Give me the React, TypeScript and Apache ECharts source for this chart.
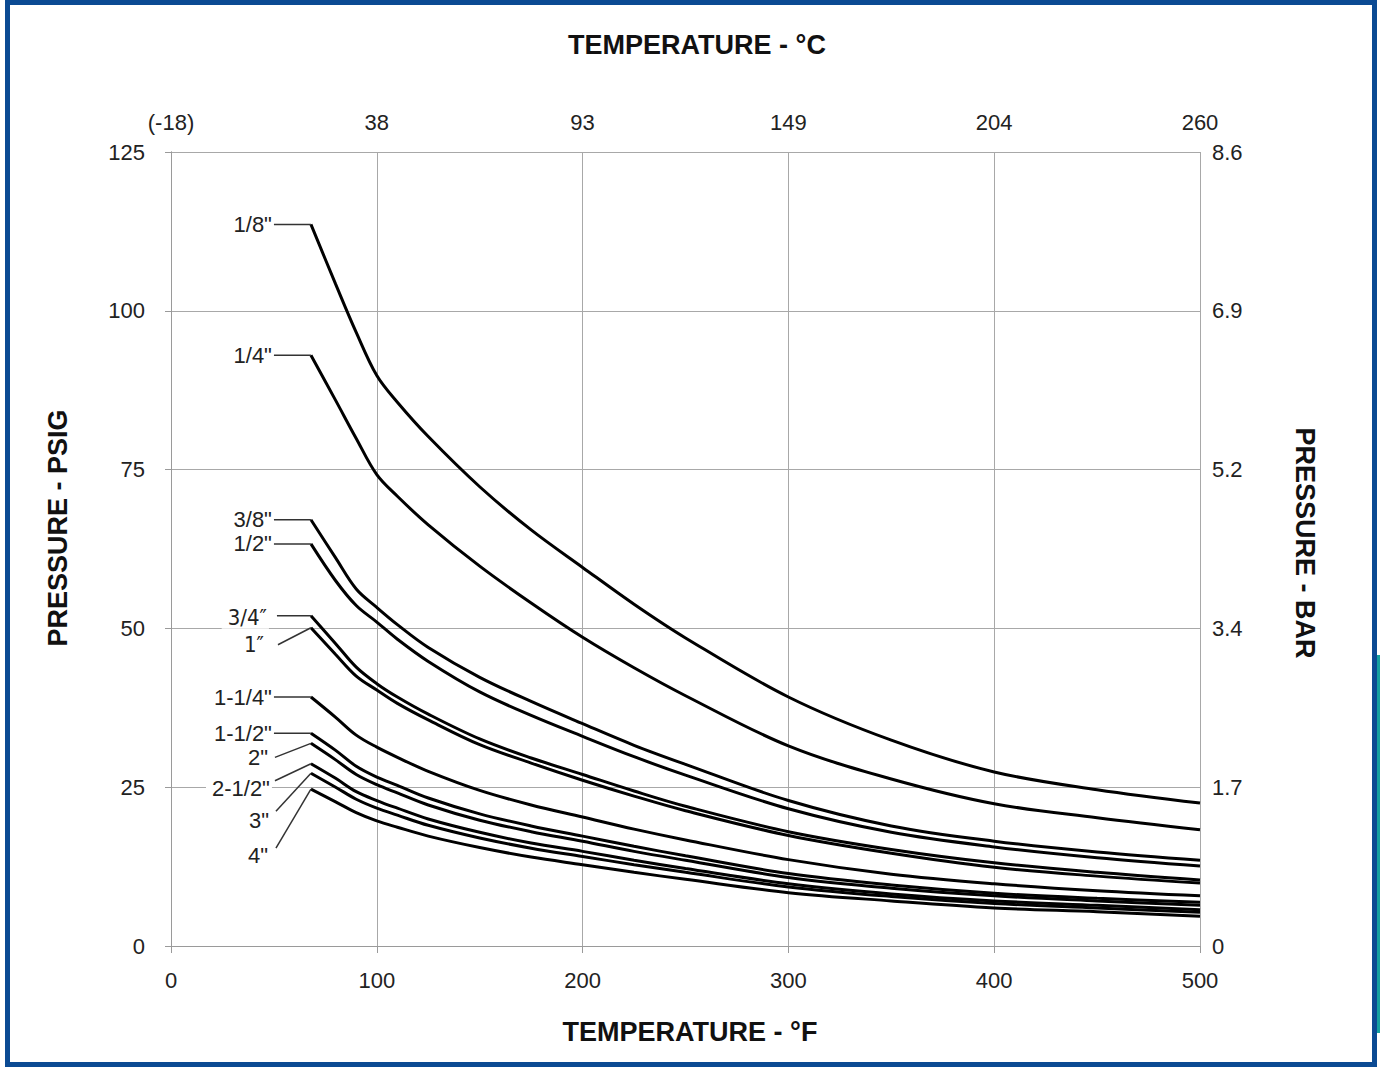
import React, { useEffect, useRef } from 'react';
import * as echarts from 'echarts';

// Temperature (°F) sample points shared by every curve
const temperaturesF = [68, 80, 90, 100, 110, 125, 150, 175, 200, 225, 250, 300, 350, 400, 450, 500];

// Pressure (psig) per pipe size
const p1_8 = [113.6, 104.2, 96.6, 89.8, 85.6, 80.2, 72.3, 65.5, 59.6, 53.8, 48.5, 39.2, 32.4, 27.4, 24.6, 22.5];
const p1_4 = [93, 85.9, 79.9, 74.2, 70.8, 66.3, 59.8, 54, 48.6, 43.8, 39.4, 31.5, 26.3, 22.4, 20.2, 18.3];
const p3_8 = [67.1, 61.1, 56.2, 53.3, 50.6, 47, 42.3, 38.5, 35, 31.6, 28.6, 22.9, 18.9, 16.5, 14.8, 13.5];
const p1_2 = [63.3, 57.5, 53.6, 51, 48.3, 44.8, 40, 36.3, 33, 29.8, 26.9, 21.6, 17.9, 15.6, 13.9, 12.6];
const p3_4 = [52, 47.6, 43.9, 41.3, 39.2, 36.5, 32.6, 29.6, 27, 24.4, 22, 18, 15.2, 13.1, 11.6, 10.4];
const p1 = [50.1, 45.9, 42.5, 40.3, 38.2, 35.6, 31.7, 28.8, 26.1, 23.6, 21.3, 17.4, 14.6, 12.4, 11, 9.9];
const p1_1_4 = [39.2, 36, 33.2, 31.3, 29.7, 27.5, 24.5, 22.2, 20.3, 18.4, 16.7, 13.6, 11.3, 9.8, 8.7, 7.9];
const p1_1_2 = [33.5, 30.8, 28.3, 26.6, 25.3, 23.3, 20.8, 18.9, 17.3, 15.7, 14.2, 11.4, 9.6, 8.3, 7.5, 6.9];
const p2 = [31.9, 29.3, 27, 25.4, 24.1, 22.2, 19.8, 18, 16.5, 14.9, 13.5, 10.8, 9.1, 7.9, 7.1, 6.4];
const p2_1_2 = [28.7, 26.4, 24.3, 22.9, 21.7, 20, 17.9, 16.2, 14.9, 13.5, 12.2, 9.8, 8.2, 7.1, 6.4, 5.7];
const p3 = [27.2, 25, 23.1, 21.7, 20.6, 19, 17, 15.4, 14.1, 12.8, 11.6, 9.3, 7.8, 6.7, 6, 5.3];
const p4 = [24.7, 22.7, 21, 19.7, 18.7, 17.3, 15.5, 14, 12.8, 11.6, 10.5, 8.4, 7.1, 6, 5.4, 4.7];

const sizeNames = ['1/8"', '1/4"', '3/8"', '1/2"', '3/4″', '1″', '1-1/4"', '1-1/2"', '2"', '2-1/2"', '3"', '4"'];
const sizeValues = [p1_8, p1_4, p3_8, p1_2, p3_4, p1, p1_1_4, p1_1_2, p2, p2_1_2, p3, p4];

// Axis tick labels
const celsiusLabels = ['(-18)', '38', '93', '149', '204', '260'];
const barLabels = ['0', '1.7', '3.4', '5.2', '6.9', '8.6'];

// Callout layout (offsets relative to each curve's start point): label right edge dx/dy, leader start lx/ly
const callouts = [
  { dx: -39, dy: 0, lx: -37, ly: 0, bg: false, thin: false },
  { dx: -39, dy: 0, lx: -37, ly: 0, bg: false, thin: false },
  { dx: -39, dy: 0, lx: -37, ly: 0, bg: false, thin: false },
  { dx: -39, dy: 0, lx: -37, ly: 0, bg: false, thin: false },
  { dx: -42, dy: 2, lx: -34, ly: 0, bg: true, thin: true },
  { dx: -45, dy: 17, lx: -33, ly: 17, bg: true, thin: true },
  { dx: -39, dy: 0, lx: -37, ly: 0, bg: false, thin: false },
  { dx: -39, dy: 0, lx: -37, ly: 0, bg: false, thin: false },
  { dx: -43, dy: 14, lx: -36, ly: 14, bg: false, thin: false },
  { dx: -39, dy: 25, lx: -36, ly: 17, bg: true, thin: false },
  { dx: -42, dy: 47, lx: -35, ly: 38, bg: false, thin: false },
  { dx: -43, dy: 66, lx: -35, ly: 59, bg: false, thin: false },
];

const FONT = "'Liberation Sans', Arial, sans-serif";

export default function App() {
  const ref = useRef<HTMLDivElement>(null);

  useEffect(() => {
    document.body.style.margin = '0';
    if (!ref.current) return;
    const chart = echarts.init(ref.current, null, { renderer: 'svg' });

    const axisLabelBase = { fontSize: 22, fontFamily: FONT, color: '#222' };
    const axisLineStyle = { color: '#9a9a9a', width: 1 };

    chart.setOption({
      animation: false,
      backgroundColor: '#fff',
      grid: { left: 171, right: 180, top: 152, bottom: 121, containLabel: false },
      xAxis: [
        {
          type: 'value', position: 'bottom', min: 0, max: 500, interval: 100,
          axisLine: { show: true, lineStyle: axisLineStyle },
          axisTick: { show: true, length: 7, lineStyle: axisLineStyle },
          axisLabel: { ...axisLabelBase, margin: 23 },
          splitLine: { show: true, lineStyle: { color: '#a8a8a8', width: 1 } },
        },
        {
          type: 'value', position: 'top', min: 0, max: 500, interval: 100,
          axisLine: { show: true, lineStyle: axisLineStyle },
          axisTick: { show: false },
          axisLabel: { ...axisLabelBase, margin: 19, showMinLabel: true, showMaxLabel: true,
            formatter: (v: number) => celsiusLabels[Math.round(v / 100)] ?? '' },
          splitLine: { show: false },
        },
      ],
      yAxis: [
        {
          type: 'value', position: 'left', min: 0, max: 125, interval: 25,
          axisLine: { show: true, lineStyle: axisLineStyle },
          axisTick: { show: true, length: 6, lineStyle: axisLineStyle },
          axisLabel: { ...axisLabelBase, margin: 26 },
          splitLine: { show: true, lineStyle: { color: '#a8a8a8', width: 1 } },
        },
        {
          type: 'value', position: 'right', min: 0, max: 125, interval: 25,
          axisLine: { show: true, lineStyle: axisLineStyle },
          axisTick: { show: false },
          axisLabel: { ...axisLabelBase, margin: 12, showMinLabel: true, showMaxLabel: true,
            formatter: (v: number) => barLabels[Math.round(v / 25)] ?? '' },
          splitLine: { show: false },
        },
      ],
      series: sizeNames.map((name, i) => ({
        name,
        type: 'line',
        xAxisIndex: 0,
        yAxisIndex: 0,
        data: temperaturesF.map((t, j) => [t, sizeValues[i][j]]),
        showSymbol: false,
        symbol: 'none',
        smooth: 0.35,
        lineStyle: { color: '#000', width: 3 },
        z: 5,
      })),
    });

    const graphics: any[] = [];
    sizeNames.forEach((name, i) => {
      const c = callouts[i];
      const p = chart.convertToPixel({ xAxisIndex: 0, yAxisIndex: 0 }, [temperaturesF[0], sizeValues[i][0]]) as number[];
      graphics.push({
        type: 'line', z: 20,
        shape: { x1: p[0] + c.lx, y1: p[1] + c.ly, x2: p[0], y2: p[1] },
        style: { stroke: '#333', lineWidth: 1.5 },
      });
      graphics.push({
        type: 'text', z: 21,
        x: p[0] + c.dx, y: p[1] + c.dy,
        style: {
          text: name,
          fontSize: 22,
          fontFamily: c.thin ? "'DejaVu Sans Condensed', 'DejaVu Sans', sans-serif" : FONT,
          fontWeight: c.thin ? 300 : 'normal',
          fill: '#222',
          align: 'right',
          verticalAlign: 'middle',
          backgroundColor: c.bg ? '#fff' : undefined,
          padding: c.bg ? [0, 2, 0, 6] : 0,
        },
      });
    });

    graphics.push(
      { type: 'text', z: 30, x: 697, y: 45, style: { text: 'TEMPERATURE - °C', fontSize: 27, fontWeight: 'bold', fontFamily: FONT, fill: '#111', align: 'center', verticalAlign: 'middle' } },
      { type: 'text', z: 30, x: 690, y: 1032, style: { text: 'TEMPERATURE - °F', fontSize: 27, fontWeight: 'bold', fontFamily: FONT, fill: '#111', align: 'center', verticalAlign: 'middle' } },
      { type: 'text', z: 30, x: 58, y: 528, rotation: Math.PI / 2, style: { text: 'PRESSURE - PSIG', fontSize: 27, fontWeight: 'bold', fontFamily: FONT, fill: '#111', align: 'center', verticalAlign: 'middle' } },
      { type: 'text', z: 30, x: 1305, y: 543, rotation: -Math.PI / 2, style: { text: 'PRESSURE - BAR', fontSize: 27, fontWeight: 'bold', fontFamily: FONT, fill: '#111', align: 'center', verticalAlign: 'middle' } },
      { type: 'rect', z: 40, shape: { x: 1377, y: 655, width: 3, height: 378 }, style: { fill: '#14a0a0' } },
      { type: 'rect', z: 41, shape: { x: 7.5, y: 2.5, width: 1367, height: 1062 }, style: { fill: 'none', stroke: '#0b4a93', lineWidth: 5 } },
    );

    chart.setOption({ graphic: graphics });

    return () => chart.dispose();
  }, []);

  return <div ref={ref} style={{ width: 1380, height: 1067 }} />;
}
